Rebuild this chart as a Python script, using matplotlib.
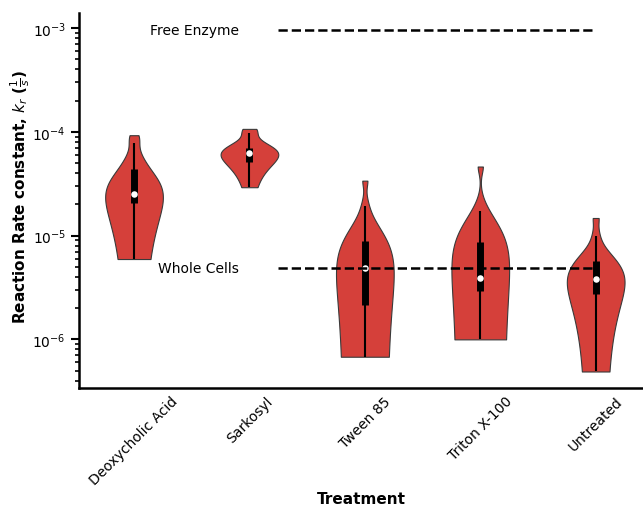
import numpy as np
import matplotlib
matplotlib.use("Agg")
from matplotlib import pyplot as plt
from matplotlib.ticker import LogLocator, NullFormatter

# reaction rate constants k_r (1/s) for each treatment
treatments = ["Deoxycholic Acid", "Sarkosyl", "Tween 85", "Triton X-100", "Untreated"]
deoxycholic = [0.595e-5, 1.2e-5, 1.8e-5, 2.0e-5, 2.1e-5, 2.2e-5, 2.3e-5, 2.5e-5,
               2.55e-5, 2.7e-5, 3.2e-5, 4.3e-5, 4.8e-5, 5.5e-5, 7.9e-5, 9.3e-5]
sarkosyl = [2.93e-5, 4.5e-5, 5.1e-5, 5.2e-5, 5.9e-5, 6.2e-5, 6.4e-5, 6.5e-5,
            6.95e-5, 7.2e-5, 9.7e-5, 10.7e-5]
tween85 = [0.68e-6, 1.0e-6, 1.5e-6, 1.9e-6, 2.2e-6, 3.0e-6, 3.8e-6, 4.6e-6,
           5.1e-6, 6.0e-6, 7.0e-6, 8.5e-6, 10.4e-6, 12.0e-6, 19.2e-6, 33.9e-6]
triton = [1.0e-6, 1.5e-6, 2.3e-6, 2.9e-6, 3.1e-6, 3.5e-6, 3.8e-6, 4.0e-6,
          5.5e-6, 8.0e-6, 9.0e-6, 11.0e-6, 17.3e-6, 46.4e-6]
untreated = [0.49e-6, 2.3e-6, 2.6e-6, 2.7e-6, 2.8e-6, 3.2e-6, 3.4e-6, 3.8e-6,
             3.9e-6, 4.3e-6, 5.5e-6, 5.8e-6, 6.5e-6, 9.9e-6, 14.8e-6]
groups = [deoxycholic, sarkosyl, tween85, triton, untreated]

# reference levels
free_enzyme = 9.6e-4
whole_cells = 4.9e-6

fig, ax = plt.subplots(figsize=(6.43, 5.06), dpi=100)
fig.subplots_adjust(left=0.123, right=1.0, top=0.972, bottom=0.231)

pos = np.arange(len(groups))
parts = ax.violinplot(groups, positions=pos, widths=0.5, points=300,
                      showextrema=False)
for body in parts["bodies"]:
    body.set_facecolor("#d5403a")
    body.set_edgecolor("#3a3a3a")
    body.set_linewidth(0.8)
    body.set_alpha(1)

# inner box: whiskers, IQR bar, median dot
for x, d in zip(pos, groups):
    d = np.sort(np.asarray(d))
    q1, med, q3 = np.percentile(d, [25, 50, 75])
    lim = 1.5 * (q3 - q1)
    lo = d[d >= q1 - lim].min()
    hi = d[d <= q3 + lim].max()
    ax.plot([x, x], [lo, hi], color="k", lw=1.5, zorder=3, solid_capstyle="butt")
    ax.plot([x, x], [q1, q3], color="k", lw=5, zorder=3, solid_capstyle="butt")
    ax.scatter([x], [med], s=22, color="white", zorder=4, linewidths=0)

ax.plot([1.25, 4], [free_enzyme, free_enzyme], "k--", lw=1.8, zorder=5)
ax.plot([1.25, 4], [whole_cells, whole_cells], "k--", lw=1.8, zorder=5)
ax.text(0.91, free_enzyme, "Free Enzyme", ha="right", va="center", fontsize=10)
ax.text(0.91, whole_cells, "Whole Cells", ha="right", va="center", fontsize=10)

ax.set_yscale("log")
ax.set_ylim(10**-6.47, 10**-2.855)
ax.set_xlim(-0.476, 4.41)
ax.yaxis.set_minor_locator(LogLocator(base=10, subs=np.arange(2, 10)))
ax.yaxis.set_minor_formatter(NullFormatter())

ax.set_xticks(pos)
ax.set_xticklabels(treatments, rotation=45, ha="center", fontsize=10)
ax.tick_params(axis="x", length=0, pad=4)
ax.tick_params(axis="y", which="major", length=6, width=1.5, labelsize=10)
ax.tick_params(axis="y", which="minor", length=3, width=1.2)

for s in ["top", "right"]:
    ax.spines[s].set_visible(False)
for s in ["left", "bottom"]:
    ax.spines[s].set_linewidth(1.8)

ax.set_xlabel("Treatment", fontsize=11, fontweight="bold")
ax.set_ylabel(r"Reaction Rate constant, $k_r$ ($\frac{1}{s}$)", fontsize=11,
              fontweight="bold")
ax.xaxis.set_label_coords(0.5, -0.275)
ax.yaxis.set_label_coords(-0.084, 0.513)

fig.savefig("out.png", dpi=100)
